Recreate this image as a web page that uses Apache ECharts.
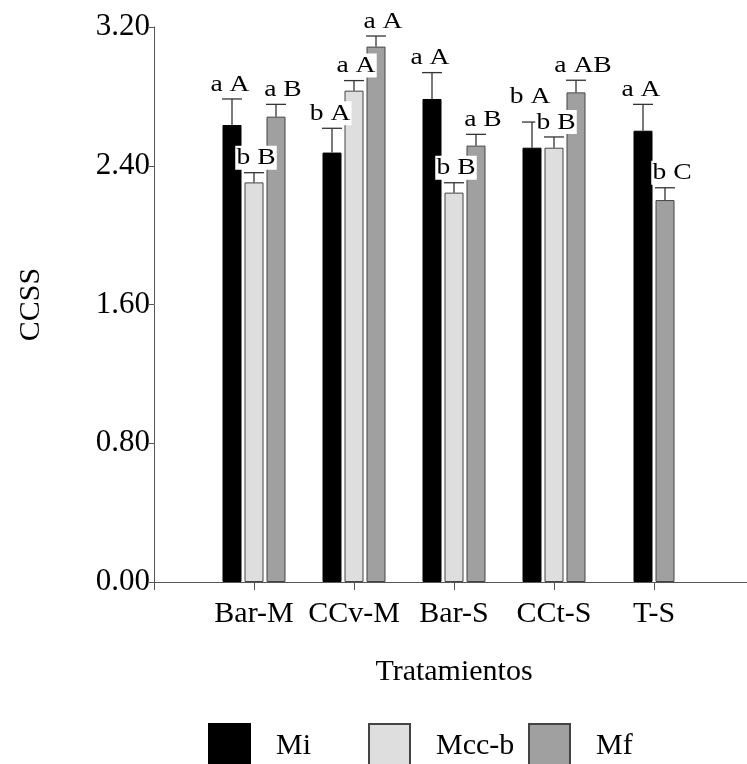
<!DOCTYPE html>
<html>
<head>
<meta charset="utf-8">
<script src="https://cdn.jsdelivr.net/npm/echarts@6/dist/echarts.min.js"></script>
<style>html,body{margin:0;padding:0;background:#fff;}#c{width:747px;height:764px;}</style>
</head>
<body>
<div id="c"></div>
<script>
// ---- data ----
const categories = ['Bar-M', 'CCv-M', 'Bar-S', 'CCt-S', 'T-S'];
const seriesNames = ['Mi', 'Mcc-b', 'Mf'];
const miMean  = [2.635, 2.476, 2.785, 2.504, 2.602];
const miErr   = [0.150, 0.140, 0.152, 0.148, 0.152];
const mccMean = [2.304, 2.833, 2.245, 2.504, null];
const mccErr  = [0.056, 0.058, 0.057, 0.062, null];
const mfMean  = [2.683, 3.087, 2.516, 2.823, 2.202];
const mfErr   = [0.071, 0.061, 0.065, 0.070, 0.071];
const miLetters  = ['a A', 'b A', 'a A', 'b A', 'a A'];
const mccLetters = ['b B', 'a A', 'b B', 'b B', null];
const mfLetters  = ['a B', 'a A', 'a B', 'a AB', 'b C'];
const yTicks = [0, 0.8, 1.6, 2.4, 3.2];

// ---- styles ----
const FONT = 'Liberation Serif';
const fills = ['#000000', '#dedede', '#a0a0a0'];
const borders = ['#000000', '#444444', '#444444'];
const BAR_W = 19, GAP = 3;
const labelDx = [-2, 2, 7];
const legendLeft = [208, 368, 528];

const means = [miMean, mccMean, mfMean];
const errs = [miErr, mccErr, mfErr];
const letters = [miLetters, mccLetters, mfLetters];

const axisCats = [''].concat(categories).concat(['']);
// categories where a series is missing go to a second (hidden) axis so the remaining bars stay centred
const partial = categories.map((c, i) => means.some(m => m[i] == null));
const series = [];
seriesNames.forEach((name, s) => {
  const full = [null].concat(categories.map((c, i) => partial[i] ? null : means[s][i])).concat([null]);
  series.push({
    type: 'bar', name: name, xAxisIndex: 0, data: full,
    barWidth: BAR_W, barGap: (GAP / BAR_W * 100) + '%',
    itemStyle: { color: fills[s], borderColor: borders[s], borderWidth: 1 },
    emphasis: { disabled: true }, silent: true
  });
});
seriesNames.forEach((name, s) => {
  const hasAny = categories.some((c, i) => partial[i] && means[s][i] != null);
  if (!hasAny) return;
  const part = [null].concat(categories.map((c, i) => partial[i] ? means[s][i] : null)).concat([null]);
  series.push({
    type: 'bar', name: name, xAxisIndex: 1, data: part,
    barWidth: BAR_W, barGap: (GAP / BAR_W * 100) + '%',
    itemStyle: { color: fills[s], borderColor: borders[s], borderWidth: 1 },
    emphasis: { disabled: true }, silent: true
  });
});

// error bars and letters
const errData = [];
categories.forEach((c, i) => {
  const present = [0, 1, 2].filter(s => means[s][i] != null);
  present.forEach((s, k) => {
    const off = (k - (present.length - 1) / 2) * (BAR_W + GAP);
    errData.push([i + 1, means[s][i], errs[s][i], s, off, letters[s][i]]);
  });
});
const liftFor = (cat, s) => (categories[cat - 1] === 'CCt-S' && s === 0) ? 11 : 0;

series.push({
  type: 'custom', xAxisIndex: 0, silent: true, z: 5,
  data: errData,
  renderItem: function (params, api) {
    const d = errData[params.dataIndex];
    const base = api.coord([d[0], d[1]]);
    const top = api.coord([d[0], d[1] + d[2]]);
    const cx = base[0] + d[4];
    const half = BAR_W / 2 + 0.5;
    const lift = liftFor(d[0], d[3]);
    return {
      type: 'group',
      children: [
        { type: 'line', shape: { x1: cx, y1: base[1], x2: cx, y2: top[1] }, style: { stroke: '#333', lineWidth: 1.3 } },
        { type: 'line', shape: { x1: cx - half, y1: top[1], x2: cx + half, y2: top[1] }, style: { stroke: '#333', lineWidth: 1.3 } },
        { type: 'text', x: cx + labelDx[d[3]], y: top[1] - 3 - lift, scaleX: 1.2, z2: 10,
          style: { text: d[5], x: 0, y: 0, align: 'center', verticalAlign: 'bottom',
                   font: '23px "Liberation Serif"', fill: '#000', backgroundColor: '#fff', padding: [1, 1, 0, 1] } }
      ]
    };
  }
});

const legends = seriesNames.map((name, s) => ({
  data: [name], left: legendLeft[s], top: 723, padding: 0, itemGap: 0,
  icon: 'rect', itemWidth: 41, itemHeight: 44,
  textStyle: { fontFamily: FONT, fontSize: 30, color: '#000', padding: [0, 0, 0, 21] },
  selectedMode: false
}));

const chart = echarts.init(document.getElementById('c'), null, { renderer: 'canvas' });
chart.setOption({
  animation: false,
  backgroundColor: '#fff',
  grid: { left: 154, top: 27, width: 600, height: 555, outerBoundsMode: 'none', containLabel: false },
  legend: legends,
  xAxis: [{
    type: 'category', data: axisCats, boundaryGap: false,
    name: 'Tratamientos', nameLocation: 'middle', nameGap: 75,
    nameTextStyle: { fontFamily: FONT, fontSize: 30, color: '#000' },
    axisLine: { lineStyle: { color: '#555', width: 1 } },
    axisTick: { length: 8, lineStyle: { color: '#555' }, interval: 0 },
    axisLabel: { fontFamily: FONT, fontSize: 30, color: '#000', margin: 17, interval: 0 },
    splitLine: { show: false }
  }, {
    type: 'category', data: axisCats, boundaryGap: false, show: false
  }],
  yAxis: {
    type: 'value', min: 0, max: 3.2, interval: 0.8,
    name: 'CCSS', nameLocation: 'middle', nameGap: 108, nameRotate: 90,
    nameTextStyle: { fontFamily: FONT, fontSize: 30, color: '#000' },
    axisLine: { show: true, lineStyle: { color: '#555', width: 1 } },
    axisTick: { show: true, length: 5, lineStyle: { color: '#555' } },
    axisLabel: { fontFamily: FONT, fontSize: 31, color: '#000', margin: 4,
                 formatter: v => v.toFixed(2) },
    splitLine: { show: false }
  },
  series: series
});
</script>
</body>
</html>
